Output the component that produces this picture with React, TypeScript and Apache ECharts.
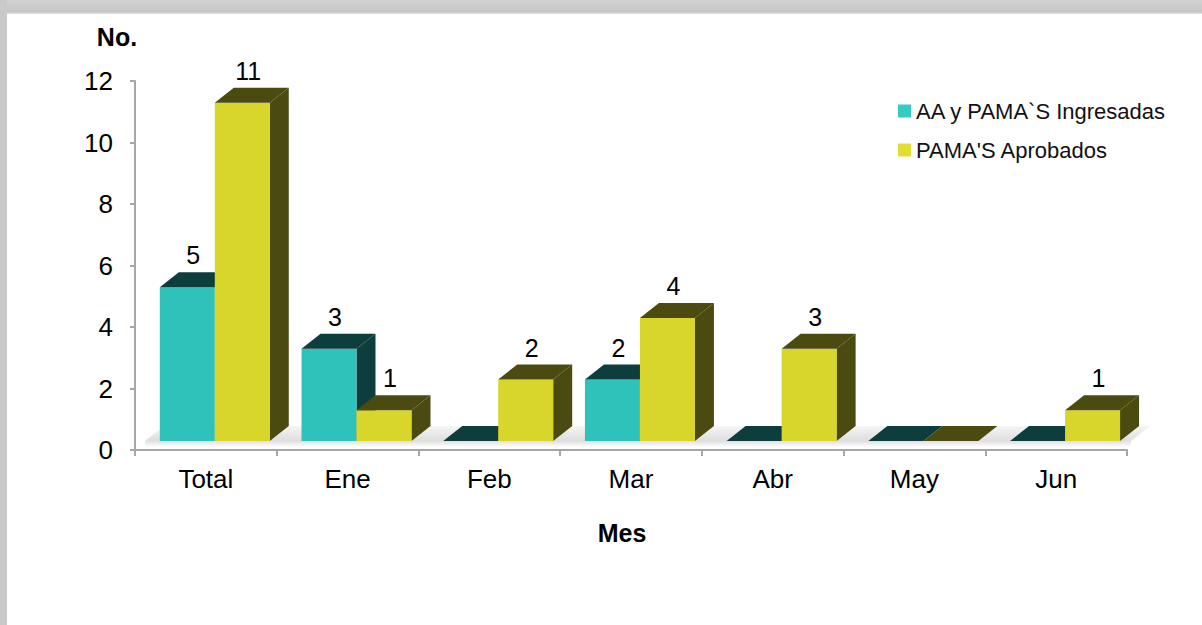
import { useEffect, useRef } from "react";
import * as echarts from "echarts";

const categories = ["Total", "Ene", "Feb", "Mar", "Abr", "May", "Jun"];
const ingresadas = [5, 3, 0, 2, 0, 0, 0];
const aprobados = [11, 1, 2, 4, 3, 0, 1];
const seriesNames = ["AA y PAMA`S Ingresadas", "PAMA'S Aprobados"];
const seriesValues = [ingresadas, aprobados];
const yMin = 0;
const yMax = 12;
const yStep = 2;

const FRONT = ["#2FC2BA", "#D9D62B"];
const DARK = ["#0E3D3D", "#4B4A10"];
const LEGEND_COLORS = ["#34CBC4", "#E0DE30"];
const FONT = "'Liberation Sans', Arial, sans-serif";

const DX = 19;
const DY = -15;
const LIFT = 9;

function makeBarRenderer(sIdx: number) {
  return (params: any, api: any) => {
    const i = api.value(0);
    const v = api.value(1);
    const base = api.coord([i, 0]);
    const top = api.coord([i, v]);
    const band = api.size([1, 0])[0];
    const barW = band * 0.388;
    const x0 = base[0] - band * 0.325 + sIdx * barW;
    const x1 = x0 + barW;
    const yb = base[1] - LIFT;
    const yt = top[1] - LIFT;
    const children: any[] = [];
    if (v > 0) {
      children.push({
        type: "polygon",
        shape: { points: [[x1, yt], [x1 + DX, yt + DY], [x1 + DX, yb + DY], [x1, yb]] },
        style: { fill: DARK[sIdx] },
      });
      children.push({
        type: "rect",
        shape: { x: x0, y: yt, width: barW, height: yb - yt },
        style: { fill: FRONT[sIdx] },
      });
    }
    children.push({
      type: "polygon",
      shape: { points: [[x0, yt], [x0 + DX, yt + DY], [x1 + DX, yt + DY], [x1, yt]] },
      style: { fill: DARK[sIdx] },
    });
    if (v > 0) {
      children.push({
        type: "text",
        style: {
          x: (x0 + x1) / 2 + 6,
          y: yt + DY - 17,
          text: String(v),
          textAlign: "center",
          textVerticalAlign: "middle",
          fontSize: 25,
          fontFamily: FONT,
          fill: "#000",
        },
      });
    }
    return { type: "group", children };
  };
}

function floorRenderer(params: any, api: any) {
  const cs = params.coordSys;
  const yf = cs.y + cs.height - LIFT;
  const xl = cs.x + 10;
  const xr = cs.x + cs.width + 4;
  return {
    type: "group",
    children: [
      {
        type: "polygon",
        shape: { points: [[xl, yf], [xl + DX, yf + DY], [xr + DX, yf + DY], [xr, yf]] },
        style: {
          fill: new echarts.graphic.LinearGradient(0, 0, 0, 1, [
            { offset: 0, color: "#f5f5f5" },
            { offset: 1, color: "#dedede" },
          ]),
        },
      },
      {
        type: "rect",
        shape: { x: xl, y: yf, width: xr - xl, height: 6 },
        style: {
          fill: new echarts.graphic.LinearGradient(0, 0, 0, 1, [
            { offset: 0, color: "#e0e0e0" },
            { offset: 1, color: "#ffffff" },
          ]),
        },
      },
    ],
  };
}

export default function App() {
  const ref = useRef<HTMLDivElement>(null);
  useEffect(() => {
    if (!ref.current) return;
    const chart = echarts.init(ref.current, undefined, { renderer: "svg" });
    const option: any = {
      animation: false,
      backgroundColor: "#ffffff",
      grid: { left: 135, right: 75, top: 81, bottom: 175 },
      legend: {
        orient: "vertical",
        left: 898,
        top: 99,
        padding: 0,
        itemWidth: 13,
        itemHeight: 13,
        itemGap: 15,
        icon: "rect",
        data: seriesNames,
        textStyle: { fontSize: 22, lineHeight: 24, fontFamily: FONT, color: "#111" },
      },
      xAxis: {
        type: "category",
        data: categories,
        boundaryGap: true,
        axisLine: { show: true, lineStyle: { color: "#a6a6a6", width: 2 } },
        axisTick: { show: true, length: 6, lineStyle: { color: "#a6a6a6", width: 2 } },
        axisLabel: { fontSize: 26, fontFamily: FONT, color: "#000", margin: 16 },
        splitLine: { show: false },
      },
      yAxis: {
        type: "value",
        min: yMin,
        max: yMax,
        interval: yStep,
        axisLine: { show: true, lineStyle: { color: "#a6a6a6", width: 2 } },
        axisTick: { show: true, length: 5, lineStyle: { color: "#a6a6a6", width: 2 } },
        axisLabel: { fontSize: 26, fontFamily: FONT, color: "#000", margin: 22 },
        splitLine: { show: false },
      },
      graphic: [
        {
          type: "rect",
          shape: { x: 0, y: 0, width: 1202, height: 14 },
          style: {
            fill: new echarts.graphic.LinearGradient(0, 0, 0, 1, [
              { offset: 0, color: "#d2d2d2" },
              { offset: 0.85, color: "#c6c6c6" },
              { offset: 1, color: "#e6e6e6" },
            ]),
          },
          z: -10,
        },
        {
          type: "rect",
          shape: { x: 0, y: 0, width: 7, height: 625 },
          style: { fill: "#c9c9c9" },
          z: -10,
        },
        {
          type: "text",
          x: 117,
          y: 37,
          style: {
            text: "No.",
            fontSize: 25,
            fontWeight: "bold",
            fontFamily: FONT,
            fill: "#000",
            textAlign: "center",
            textVerticalAlign: "middle",
          },
        },
        {
          type: "text",
          x: 622,
          y: 533,
          style: {
            text: "Mes",
            fontSize: 25,
            fontWeight: "bold",
            fontFamily: FONT,
            fill: "#000",
            textAlign: "center",
            textVerticalAlign: "middle",
          },
        },
      ],
      series: [
        {
          type: "custom",
          name: "floor",
          data: [[0, 0]],
          encode: { x: 0, y: 1 },
          renderItem: floorRenderer,
          silent: true,
          z: 1,
        },
        ...seriesValues.map((vals, sIdx) => ({
          type: "custom",
          name: seriesNames[sIdx],
          data: vals.map((v, i) => [i, v]),
          encode: { x: 0, y: 1 },
          itemStyle: { color: LEGEND_COLORS[sIdx] },
          renderItem: makeBarRenderer(sIdx),
          z: 2 + sIdx,
        })),
      ],
    };
    chart.setOption(option);
    return () => chart.dispose();
  }, []);
  return (
    <div
      ref={ref}
      style={{ position: "absolute", left: 0, top: 0, width: 1202, height: 625 }}
    />
  );
}
